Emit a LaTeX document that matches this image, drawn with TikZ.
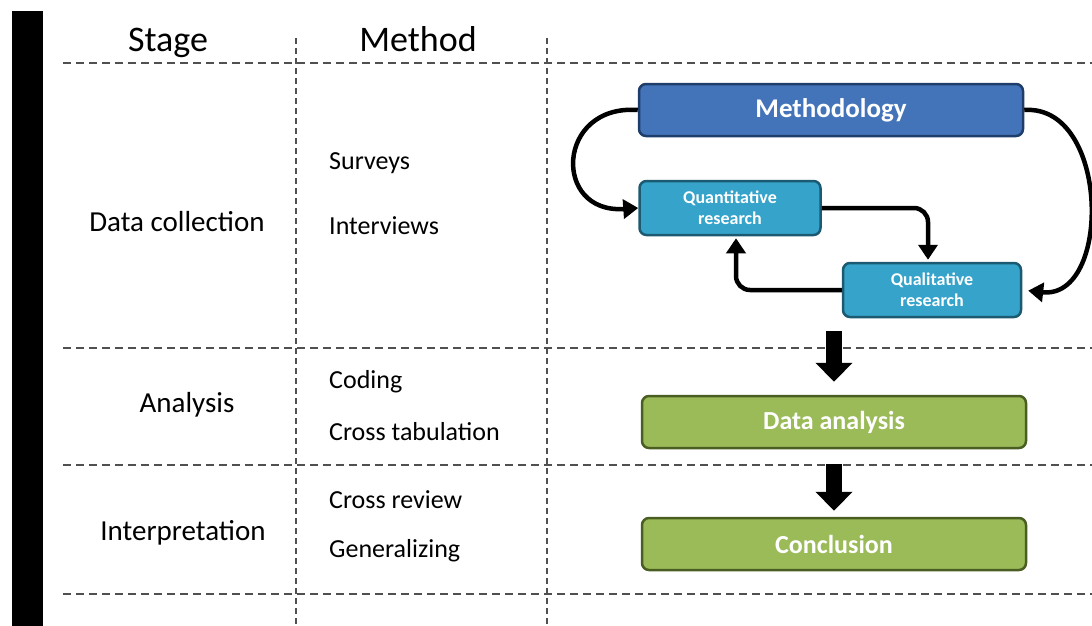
\documentclass[tikz,border=0pt]{standalone}
\usepackage{fontspec}
\setmainfont{Carlito}
\usetikzlibrary{arrows.meta}
\definecolor{methblue}{HTML}{4374B9}
\definecolor{methedge}{HTML}{1F3D6B}
\definecolor{resblue}{HTML}{35A3CA}
\definecolor{resedge}{HTML}{1B5A70}
\definecolor{anagreen}{HTML}{9BBB59}
\definecolor{anaedge}{HTML}{4A5E22}
\definecolor{sepgray}{HTML}{505050}
\begin{document}
\begin{tikzpicture}[x=1pt,y=-1pt]
\tikzstyle{sep}= [sepgray,line width=2pt,dash pattern=on 8pt off 5pt]
\tikzstyle{vsep}= [sepgray,line width=2pt,dash pattern=on 6pt off 4pt]
\tikzstyle{head}= [anchor=base,font=\fontsize{36}{40}\selectfont]
\tikzstyle{stagetxt}= [font=\fontsize{29}{34}\selectfont]
\tikzstyle{methtxt}= [anchor=west,inner sep=0pt,font=\fontsize{26}{30}\selectfont]
\tikzstyle{box}= [rectangle,rounded corners=7pt,line width=2.5pt,text=white,font=\bfseries\fontsize{26}{30}\selectfont,minimum width=384pt,minimum height=52pt]
\tikzstyle{topbox}= [box,fill=methblue,draw=methedge,font=\bfseries\fontsize{27}{30}\selectfont]
\tikzstyle{resbox}= [box,fill=resblue,draw=resedge,align=center,minimum width=181pt,minimum height=54pt,font=\bfseries\fontsize{18}{21}\selectfont]
\tikzstyle{greenbox}= [box,fill=anagreen,draw=anaedge]
\tikzstyle{dep}= [-{Triangle[length=15pt,width=19pt]},line width=4.5pt]
\tikzstyle{flow}= [-{Triangle[length=19pt,width=36pt]},line width=16pt]
\useasboundingbox (0,0) rectangle (1092,626);
\fill (12,11) rectangle (43,626);
\foreach \y in {63,348,465,594}
	\draw[sep] (63,\y) -- (1092,\y);
\foreach \x in {296,547}
	\draw[vsep] (\x,38) -- (\x,626);
\path
	(168,52) node[head] (stage) {Stage}
	(418,52) node[head] (method) {Method}
	(177,222) node[stagetxt] (collect) {Data collection}
	(187,405) node[stagetxt] (analysis) {Analysis}
	(183,533) node[stagetxt] (interp) {Interpretation}
	(329,163) node[methtxt] (surveys) {Surveys}
	(329,226) node[methtxt] (interviews) {Interviews}
	(329,382) node[methtxt] (coding) {Coding}
	(329,432) node[methtxt] (crosstab) {Cross tabulation}
	(329,500) node[methtxt] (review) {Cross review}
	(329,551) node[methtxt] (general) {Generalizing}
	(831,110) node[topbox] (meth) {Methodology}
	(730,208) node[resbox] (quant) {Quantitative\\research}
	(932,290) node[resbox,minimum width=178pt] (qual) {Qualitative\\research}
	(834,422) node[greenbox] (da) {Data analysis}
	(834,544) node[greenbox] (co) {Conclusion}
;
\coordinate (drop) at (834,331);
\draw[dep] (meth.west) .. controls (556,104) and (552,214) .. (quant.west);
\draw[dep,shorten >=6pt] (meth.east) .. controls (1110,104) and (1112,300) .. (qual.east);
\draw[dep,rounded corners=14pt,shorten >=2pt] (quant.east) -| ([xshift=-4pt]qual.north);
\draw[dep,rounded corners=14pt,shorten >=2pt] (qual.west) -| ([xshift=6pt]quant.south);
\draw[flow,shorten >=13pt] (drop) -- (da);
\draw[flow,shorten <=15pt,shorten >=6pt] (da) -- (co);
\end{tikzpicture}
\end{document}
